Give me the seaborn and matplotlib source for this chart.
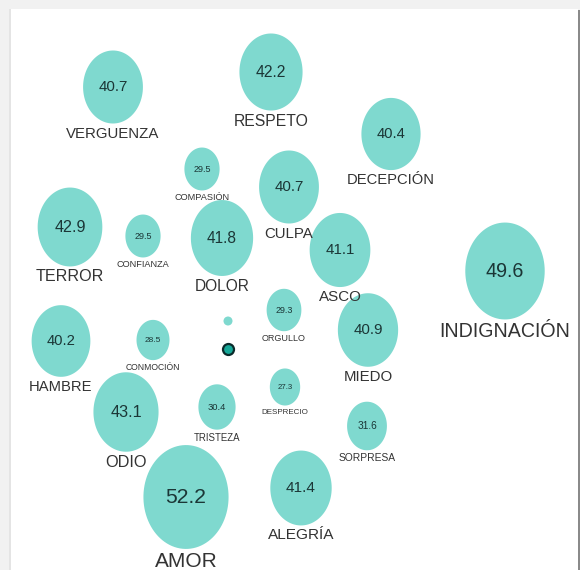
import numpy as np
import matplotlib
matplotlib.use("Agg")
import matplotlib.pyplot as plt
from matplotlib.path import Path
from matplotlib.patches import Rectangle
import seaborn as sb
import pandas as pd

# Datos: emociones, valor y posicion en el mapa de burbujas
emociones = ["VERGUENZA", "RESPETO", "DECEPCIÓN", "COMPASIÓN", "CULPA",
             "TERROR", "CONFIANZA", "DOLOR", "ASCO", "INDIGNACIÓN",
             "ORGULLO", "MIEDO", "HAMBRE", "CONMOCIÓN", "ODIO",
             "TRISTEZA", "DESPRECIO", "SORPRESA", "AMOR", "ALEGRÍA"]
valores = [40.7, 42.2, 40.4, 29.5, 40.7,
           42.9, 29.5, 41.8, 41.1, 49.6,
           29.3, 40.9, 40.2, 28.5, 43.1,
           30.4, 27.3, 31.6, 52.2, 41.4]
pos_x = [113, 271, 391, 202, 289,
         70, 143, 222, 340, 505,
         284, 368, 61, 153, 126,
         217, 285, 367, 186, 301]
pos_y = [87, 72, 134, 169, 187,
         227, 236, 238, 250, 271,
         310, 330, 341, 340, 412,
         407, 387, 426, 497, 488]

# puntos centrales
centro_x = [228, 228]
centro_y = [321, 349]

df = pd.DataFrame({"emocion": emociones, "valor": valores, "x": pos_x, "y": pos_y})

DPI = 100
PX2PT = 72 / DPI
RATIO = 1.22  # burbujas algo estiradas en vertical

# diametro horizontal en px
df["d"] = 2.2 * (df["valor"] - 13.5)

# marcador eliptico
t = np.linspace(0, 2 * np.pi, 100)
elipse = Path(np.column_stack([np.cos(t), RATIO * np.sin(t)]), closed=True)

sb.set_style("white")
plt.rcParams["font.family"] = ["Liberation Sans", "DejaVu Sans"]

fig = plt.figure(figsize=(5.8, 5.7), dpi=DPI)
fig.patch.set_facecolor("#f1f1f1")
fig.patches.append(Rectangle((578 / 580, 0), 2 / 580, 560 / 570, transform=fig.transFigure,
                             facecolor="#8a8a8a", edgecolor="none"))
fig.patches.append(Rectangle((9 / 580, 0), 2 / 580, 561 / 570, transform=fig.transFigure,
                             facecolor="#e4e4e4", edgecolor="none"))

ax = fig.add_axes([11 / 580, 0, 567 / 580, 561 / 570])
ax.set_facecolor("white")

teal = "#7fd9cf"
sizes = (df["d"] * RATIO * PX2PT) ** 2
sb.scatterplot(data=df, x="x", y="y", s=sizes, marker=elipse, color=teal,
               edgecolor="none", linewidth=0, legend=False, ax=ax)

# puntos del centro
sb.scatterplot(x=centro_x[:1], y=centro_y[:1], s=(9 * PX2PT) ** 2, color=teal,
               edgecolor="none", linewidth=0, legend=False, ax=ax)
sb.scatterplot(x=centro_x[1:], y=centro_y[1:], s=(11 * PX2PT) ** 2, color="#16a898",
               edgecolor="#0b2b2b", linewidth=1.6, legend=False, ax=ax)

for _, r in df.iterrows():
    fs_num = 0.175 * r["d"] + 0.3
    fs_lab = 0.17 * r["d"] + 0.6
    ax.text(r["x"], r["y"], "%.1f" % r["valor"], ha="center", va="center",
            fontsize=fs_num, color="#1b3636")
    off = -(r["d"] * RATIO / 2 + 3) * PX2PT
    ax.annotate(r["emocion"], (r["x"], r["y"]), xytext=(0, off), textcoords="offset points",
                ha="center", va="top", fontsize=fs_lab, color="#333333",
                annotation_clip=False)

ax.set_xlim(11, 578)
ax.set_ylim(570, 9)
ax.set_xlabel("")
ax.set_ylabel("")
ax.set_xticks([])
ax.set_yticks([])
for s in ax.spines.values():
    s.set_visible(False)

fig.savefig("out.png", dpi=DPI, facecolor=fig.get_facecolor())
